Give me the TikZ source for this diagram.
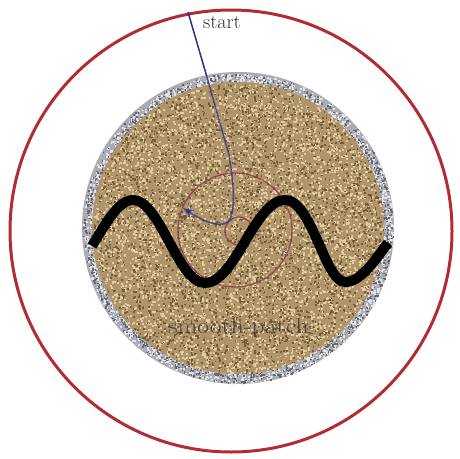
\documentclass[tikz,border=0pt]{standalone}
\usetikzlibrary{arrows.meta}
\definecolor{redc}{RGB}{178,45,50}
\definecolor{tanbase}{RGB}{176,148,106}
\definecolor{tanlight}{RGB}{226,204,162}
\definecolor{tandark}{RGB}{115,92,58}
\definecolor{graybase}{RGB}{170,172,178}
\definecolor{graylight}{RGB}{228,228,232}
\definecolor{graydark}{RGB}{100,101,110}
\definecolor{navy}{RGB}{45,45,140}
\definecolor{smallred}{RGB}{140,55,80}
\definecolor{textgray}{RGB}{45,45,55}
\tikzset{
  outerring/.style={draw=redc,line width=3pt},
  innerring/.style={draw=smallred,line width=1.3pt,opacity=0.8},
  wave/.style={draw=black,line width=10pt,line cap=butt},
  track/.style={draw=navy,line width=1.5pt},
  lbl/.style={inner sep=0pt,text=textgray},
}
\begin{document}
\begin{tikzpicture}[x=1pt,y=-1pt]
\useasboundingbox[fill=white] (0,0) rectangle (460,458);
% outer circle
\node[outerring,circle,minimum size=442pt,inner sep=0pt] (outer) at (231,231) {};
% textured patch
\coordinate (pc) at (238,228);
\fill[graybase] (pc) circle[radius=156];
\pgfmathsetseed{7}
\begin{scope}[shift={(238,228)}]
\foreach \i in {1,...,1200}{
  \pgfmathsetmacro\ra{145+10*rnd}
  \pgfmathsetmacro\an{360*rnd}
  \fill[graylight] (\an:\ra) rectangle +(1.8,1.8);
}
\foreach \i in {1,...,900}{
  \pgfmathsetmacro\ra{145+10*rnd}
  \pgfmathsetmacro\an{360*rnd}
  \fill[graydark] (\an:\ra) rectangle +(1.5,1.5);
}
\fill[tanbase] (0,0) circle[radius=146];
\foreach \i in {1,...,4200}{
  \pgfmathsetmacro\ra{145*sqrt(rnd)}
  \pgfmathsetmacro\an{360*rnd}
  \fill[tanlight] (\an:\ra) rectangle +(1.9,1.9);
}
\foreach \i in {1,...,3600}{
  \pgfmathsetmacro\ra{145*sqrt(rnd)}
  \pgfmathsetmacro\an{360*rnd}
  \fill[tandark] (\an:\ra) rectangle +(1.6,1.6);
}
\end{scope}
% patch label
\node[lbl,anchor=base,opacity=0.8,xscale=1.17] (patchlbl) at (238.5,333) {\fontsize{22}{26}\selectfont smooth-patch};
% small red circles
\node[innerring,circle,minimum size=114pt,inner sep=0pt] (bigc) at (235,230) {};
\node[innerring,circle,minimum size=28pt,inner sep=0pt] (smallc) at (239,231) {};
% blue track
\coordinate (s) at (188,12);
\coordinate (e) at (206.7,76.2);
\coordinate (b) at (229,155);
\coordinate (k) at (228,222);
\coordinate (t) at (183,208);
\draw[track] (s) -- (e);
\draw[track,opacity=0.75,-{Stealth[length=11pt,width=8pt]}] (e) -- (b) .. controls (233,180) and (237,212) .. (k) .. controls (218,229) and (200,219) .. (t);
\node[lbl,anchor=base west] (startlbl) at (203,28) {\fontsize{20}{24}\selectfont start};
% black wave
\coordinate (w0) at (92,246);
\coordinate (w1) at (133,200);
\coordinate (w2) at (205,283);
\coordinate (w3) at (285,200);
\coordinate (w4) at (345,282);
\coordinate (w5) at (388,243);
\draw[wave] (w0) .. controls (105,225) and (118,200) .. (w1)
  .. controls (160,200) and (178,283) .. (w2)
  .. controls (235,283) and (255,200) .. (w3)
  .. controls (312,200) and (325,282) .. (w4)
  .. controls (362,282) and (376,258) .. (w5);
\end{tikzpicture}
\end{document}
